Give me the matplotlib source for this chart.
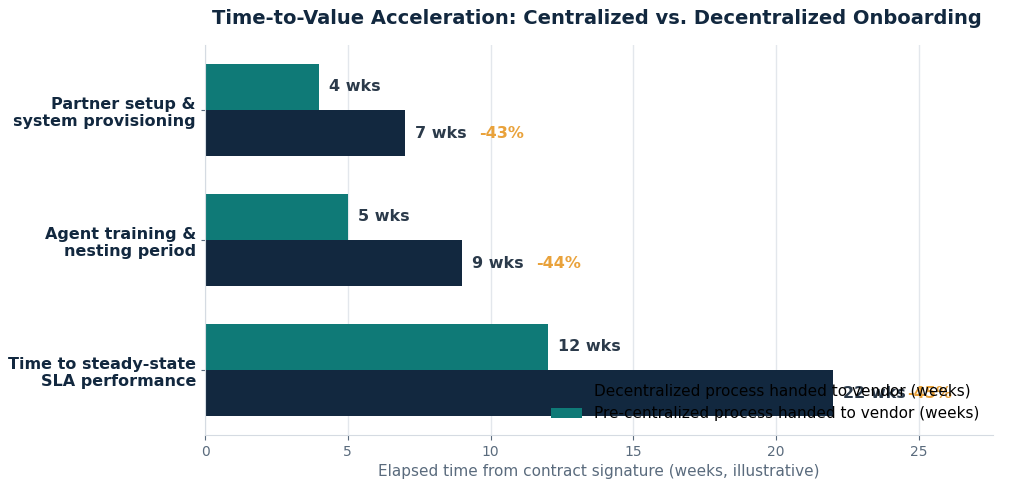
import matplotlib
matplotlib.use("Agg")
import matplotlib.pyplot as plt
import numpy as np

categories = ["Partner setup &\nsystem provisioning", "Agent training &\nnesting period",
              "Time to steady-state\nSLA performance"]
decentralized = [7, 9, 22]
centralized = [4, 5, 12]
reductions = ["-43%", "-44%", "-45%"]

NAVY = "#12283f"
TEAL = "#0f7a77"
ORANGE = "#e9a23b"

fig = plt.figure(figsize=(10.24, 4.87), dpi=100)
ax = fig.add_axes([205 / 1024, 1 - 435 / 487, 788 / 1024, 390 / 487])
y = np.arange(len(categories))
h = 0.355
ax.barh(y + h / 2, decentralized, height=h, color=NAVY, label="Decentralized process handed to vendor (weeks)", zorder=2)
ax.barh(y - h / 2, centralized, height=h, color=TEAL, label="Pre-centralized process handed to vendor (weeks)", zorder=2)

for i in range(len(categories)):
    ax.text(centralized[i] + 0.35, y[i] - h / 2, f"{centralized[i]} wks", va="center",
            fontsize=11.5, fontweight="bold", color="#2b3a4a", zorder=3)
    ax.text(decentralized[i] + 0.35, y[i] + h / 2, f"{decentralized[i]} wks", va="center",
            fontsize=11.5, fontweight="bold", color="#2b3a4a", zorder=3)
    ax.text(decentralized[i] + 2.6, y[i] + h / 2, reductions[i], va="center",
            fontsize=11.5, fontweight="bold", color=ORANGE, zorder=3)

ax.set_yticks(y)
ax.set_yticklabels(categories, fontsize=11.5, fontweight="bold", color=NAVY)
ax.set_ylim(2.5, -0.5)
ax.set_xlim(0, 27.6)
ax.set_xticks([0, 5, 10, 15, 20, 25])
ax.tick_params(axis="x", colors="#5a6b7d", labelsize=10)
ax.tick_params(axis="y", length=3, colors="#5a6b7d")
for lbl in ax.get_yticklabels():
    lbl.set_color(NAVY)
ax.grid(axis="x", color="#e3e7ec", linewidth=1, zorder=0)
for s in ["top", "right"]:
    ax.spines[s].set_visible(False)
for s in ["left", "bottom"]:
    ax.spines[s].set_color("#d5dbe2")
ax.set_xlabel("Elapsed time from contract signature (weeks, illustrative)", fontsize=11, color="#5a6b7d")
fig.text(597 / 1024, 1 - 18 / 487, "Time-to-Value Acceleration: Centralized vs. Decentralized Onboarding",
         fontsize=14, fontweight="bold", color=NAVY, ha="center", va="center")
ax.legend(loc="lower right", frameon=False, fontsize=11, bbox_to_anchor=(1.0, 0.0))
fig.savefig("out.png", dpi=100)
